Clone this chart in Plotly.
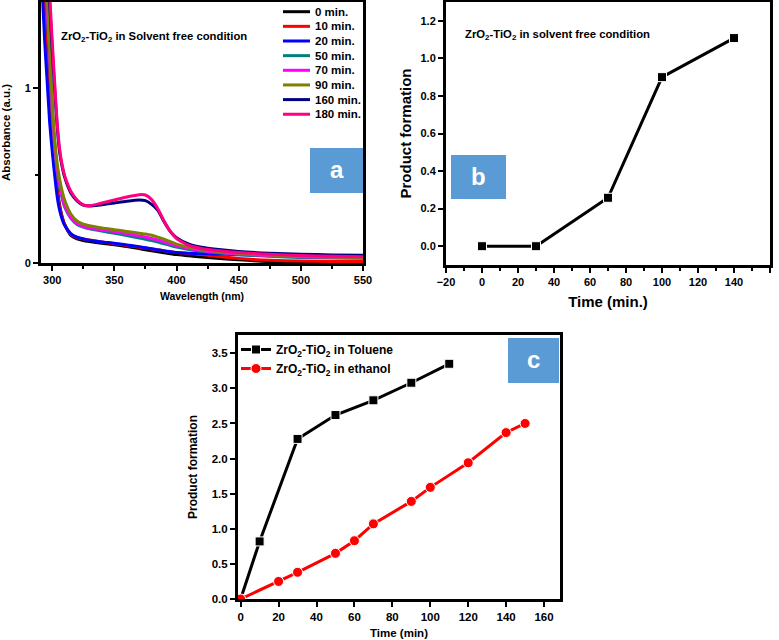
import plotly.graph_objects as go

# ---------------- data ----------------
# Panel a: UV-Vis spectra
wavelength = [290, 292, 294, 296, 298, 300, 302, 304, 306, 308, 310, 315, 320, 325, 330, 340, 350,
              360, 370, 375, 380, 385, 390, 395, 400, 410, 420, 430, 450, 475, 500, 525, 550]
abs_0 = [2.3, 1.8, 1.45, 1.16, 0.92, 0.72, 0.56, 0.43, 0.33, 0.265, 0.22, 0.158, 0.138, 0.128, 0.122, 0.113, 0.104,
         0.094, 0.082, 0.076, 0.07, 0.064, 0.058, 0.053, 0.048, 0.041, 0.034, 0.028, 0.018, 0.008, 0.004, 0.002, 0.001]
abs_10 = [2.2, 1.7, 1.38, 1.1, 0.87, 0.68, 0.53, 0.41, 0.32, 0.26, 0.22, 0.163, 0.145, 0.137, 0.131, 0.12, 0.11,
          0.1, 0.09, 0.085, 0.08, 0.075, 0.07, 0.065, 0.06, 0.054, 0.048, 0.04, 0.026, 0.016, 0.011, 0.009, 0.008]
abs_20 = [2.0, 1.56, 1.26, 1.03, 0.8, 0.64, 0.5, 0.38, 0.3, 0.25, 0.215, 0.168, 0.148, 0.138, 0.13, 0.12, 0.113,
          0.103, 0.093, 0.087, 0.081, 0.075, 0.069, 0.064, 0.06, 0.056, 0.054, 0.052, 0.047, 0.042, 0.036, 0.032, 0.03]
abs_50 = [2.45, 2.0, 1.66, 1.42, 1.14, 0.87, 0.66, 0.52, 0.43, 0.37, 0.32, 0.255, 0.22, 0.205, 0.195, 0.182, 0.17,
          0.157, 0.143, 0.136, 0.128, 0.119, 0.11, 0.1, 0.091, 0.077, 0.067, 0.06, 0.048, 0.038, 0.032, 0.029, 0.027]
abs_70 = [2.5, 2.05, 1.7, 1.45, 1.17, 0.89, 0.68, 0.54, 0.45, 0.38, 0.33, 0.26, 0.225, 0.21, 0.2, 0.19, 0.18,
          0.168, 0.155, 0.148, 0.14, 0.131, 0.121, 0.11, 0.099, 0.083, 0.072, 0.064, 0.052, 0.042, 0.036, 0.033, 0.031]
abs_90 = [2.6, 2.1, 1.75, 1.52, 1.22, 0.93, 0.71, 0.57, 0.48, 0.41, 0.36, 0.28, 0.24, 0.222, 0.213, 0.2, 0.19,
          0.18, 0.17, 0.165, 0.158, 0.148, 0.136, 0.122, 0.108, 0.09, 0.078, 0.069, 0.056, 0.045, 0.038, 0.034, 0.032]
abs_160 = [3.1, 2.5, 2.1, 1.75, 1.48, 1.22, 0.99, 0.78, 0.63, 0.55, 0.49, 0.4, 0.355, 0.33, 0.325, 0.333, 0.343,
           0.353, 0.36, 0.356, 0.335, 0.30, 0.235, 0.18, 0.145, 0.108, 0.09, 0.08, 0.066, 0.056, 0.05, 0.046, 0.044]
abs_180 = [3.2, 2.6, 2.2, 1.8, 1.53, 1.27, 1.03, 0.8, 0.65, 0.56, 0.5, 0.41, 0.36, 0.332, 0.327, 0.343, 0.36,
           0.377, 0.39, 0.388, 0.362, 0.31, 0.24, 0.18, 0.14, 0.10, 0.083, 0.073, 0.06, 0.05, 0.043, 0.038, 0.035]
spectra_names = ["0 min.", "10 min.", "20 min.", "50 min.", "70 min.", "90 min.", "160 min.", "180 min."]
spectra_values = [abs_0, abs_10, abs_20, abs_50, abs_70, abs_90, abs_160, abs_180]
spectra_colors = ["#000000", "#FF0000", "#0000FF", "#008080", "#FF00FF", "#808000", "#000080", "#FF0080"]

# Panel b: solvent free
time_b = [0, 30, 70, 100, 140]
product_b = [0.0, 0.0, 0.258, 0.90, 1.108]

# Panel c: toluene vs ethanol
time_tol = [0, 10, 30, 50, 70, 90, 110]
product_tol = [0.0, 0.82, 2.28, 2.62, 2.83, 3.08, 3.35]
time_eth = [0, 20, 30, 50, 60, 70, 90, 100, 120, 140, 150]
product_eth = [0.0, 0.25, 0.38, 0.65, 0.83, 1.07, 1.39, 1.59, 1.94, 2.37, 2.50]

# ---------------- figure ----------------
W, H = 779, 640
FONT = "Arial, Liberation Sans, sans-serif"

def px(x):
    return x / W

def py(y):
    return 1 - y / H

fig = go.Figure()

for name, vals, col in zip(spectra_names, spectra_values, spectra_colors):
    fig.add_trace(go.Scatter(x=wavelength, y=vals, mode="lines", name=name,
                             line=dict(color=col, width=3, shape="spline", smoothing=0.6),
                             xaxis="x", yaxis="y", showlegend=False))

fig.add_trace(go.Scatter(x=time_b, y=product_b, mode="lines+markers", name="solvent free",
                         line=dict(color="black", width=3),
                         marker=dict(symbol="square", size=9, color="black",
                                     line=dict(color="white", width=1)),
                         xaxis="x2", yaxis="y2", showlegend=False))

fig.add_trace(go.Scatter(x=time_tol, y=product_tol, mode="lines+markers",
                         name="<b>ZrO<sub>2</sub>-TiO<sub>2</sub> in Toluene</b>",
                         line=dict(color="black", width=3),
                         marker=dict(symbol="square", size=9, color="black",
                                     line=dict(color="white", width=1)),
                         xaxis="x3", yaxis="y3", legend="legend"))
fig.add_trace(go.Scatter(x=time_eth, y=product_eth, mode="lines+markers",
                         name="<b>ZrO<sub>2</sub>-TiO<sub>2</sub> in ethanol</b>",
                         line=dict(color="#FF0000", width=3),
                         marker=dict(symbol="circle", size=10, color="#FF0000",
                                     line=dict(color="white", width=1)),
                         xaxis="x3", yaxis="y3", legend="legend"))

axis_common = dict(showline=True, linewidth=3, linecolor="black", mirror=True,
                   ticks="outside", ticklen=5, tickwidth=2, tickcolor="black",
                   showgrid=False, zeroline=False,
                   tickfont=dict(family=FONT, size=11, color="black", weight="bold"),
                   automargin=False)

fig.update_layout(
    width=W, height=H,
    margin=dict(l=0, r=0, t=0, b=0),
    paper_bgcolor="white", plot_bgcolor="white",
    font=dict(family=FONT, size=11, color="black"),
    xaxis=dict(axis_common, domain=[px(41), px(363)], range=[291, 550],
               tickvals=[300, 350, 400, 450, 500, 550],
               minor=dict(dtick=25, tick0=300, ticks="outside", ticklen=3, tickwidth=2),
               title=dict(text="<b>Wavelength (nm)</b>", font=dict(size=10.5), standoff=8),
               anchor="y"),
    yaxis=dict(axis_common, domain=[py(263), py(2)], range=[0, 1.49],
               tickvals=[0, 1],
               minor=dict(tickvals=[0.5], ticks="outside", ticklen=3, tickwidth=2),
               title=dict(text="<b>Absorbance (a.u.)</b>", font=dict(size=11.5), standoff=14),
               anchor="x"),
    xaxis2=dict(axis_common, domain=[px(446), px(770)], range=[-20, 160], dtick=20,
                minor=dict(dtick=10, ticks="outside", ticklen=3, tickwidth=2),
                title=dict(text="<b>Time (min.)</b>", font=dict(size=15), standoff=10),
                anchor="y2"),
    yaxis2=dict(axis_common, domain=[py(265), py(2)], range=[-0.1, 1.3],
                tickvals=[0, 0.2, 0.4, 0.6, 0.8, 1.0, 1.2], tickformat=".1f",
                title=dict(text="<b>Product formation</b>", font=dict(size=15), standoff=6),
                anchor="x2"),
    xaxis3=dict(axis_common, domain=[px(238), px(560)], range=[-1.4, 168.4], dtick=20,
                tickfont=dict(family=FONT, size=11.5, color="black", weight="bold"),
                title=dict(text="<b>Time (min)</b>", font=dict(size=11.5), standoff=8),
                anchor="y3"),
    yaxis3=dict(axis_common, domain=[py(599), py(335)], range=[0, 3.76],
                tickvals=[0, 0.5, 1.0, 1.5, 2.0, 2.5, 3.0, 3.5], tickformat=".1f",
                tickfont=dict(family=FONT, size=11.5, color="black", weight="bold"),
                title=dict(text="<b>Product formation</b>", font=dict(size=12), standoff=12),
                anchor="x3"),
    legend=dict(x=px(236), y=py(335), xanchor="left", yanchor="top",
                bgcolor="rgba(0,0,0,0)", borderwidth=0,
                font=dict(family=FONT, size=12, color="black"),
                itemwidth=30, tracegroupgap=0),
)

shapes = []
annotations = []

# manual legend for panel a
for i, (name, col) in enumerate(zip(spectra_names, spectra_colors)):
    yy = 11.7 + i * 14.65
    shapes.append(dict(type="line", xref="paper", yref="paper",
                       x0=px(283), x1=px(310), y0=py(yy), y1=py(yy),
                       line=dict(color=col, width=3)))
    annotations.append(dict(text=f"<b>{name}</b>", xref="paper", yref="paper",
                            x=px(313), y=py(yy), xanchor="left", yanchor="middle",
                            showarrow=False, font=dict(family=FONT, size=11.5, color="black")))

# panel label boxes
boxes = [("a", 310, 148, 363, 193), ("b", 451, 155, 506, 199), ("c", 508, 338, 559, 383)]
for lab, x0, y0, x1, y1 in boxes:
    shapes.append(dict(type="rect", xref="paper", yref="paper",
                       x0=px(x0), x1=px(x1), y0=py(y1), y1=py(y0),
                       fillcolor="#5B9BD5", line=dict(width=0)))
    annotations.append(dict(text=f"<b>{lab}</b>", xref="paper", yref="paper",
                            x=px((x0 + x1) / 2), y=py((y0 + y1) / 2 - 1),
                            xanchor="center", yanchor="middle", showarrow=False,
                            font=dict(family=FONT, size=24, color="white")))

annotations.append(dict(text="<b>ZrO<sub>2</sub>-TiO<sub>2</sub> in Solvent free condition</b>",
                        xref="paper", yref="paper", x=px(59), y=py(37),
                        xanchor="left", yanchor="middle", showarrow=False,
                        font=dict(family=FONT, size=11.3, color="black")))
annotations.append(dict(text="<b>ZrO<sub>2</sub>-TiO<sub>2</sub> in solvent free condition</b>",
                        xref="paper", yref="paper", x=px(463), y=py(35),
                        xanchor="left", yanchor="middle", showarrow=False,
                        font=dict(family=FONT, size=11.3, color="black")))

fig.update_layout(shapes=shapes, annotations=annotations)

fig.write_html("out.html", config={"displayModeBar": False},
               post_script="document.body.style.margin='0px';")
